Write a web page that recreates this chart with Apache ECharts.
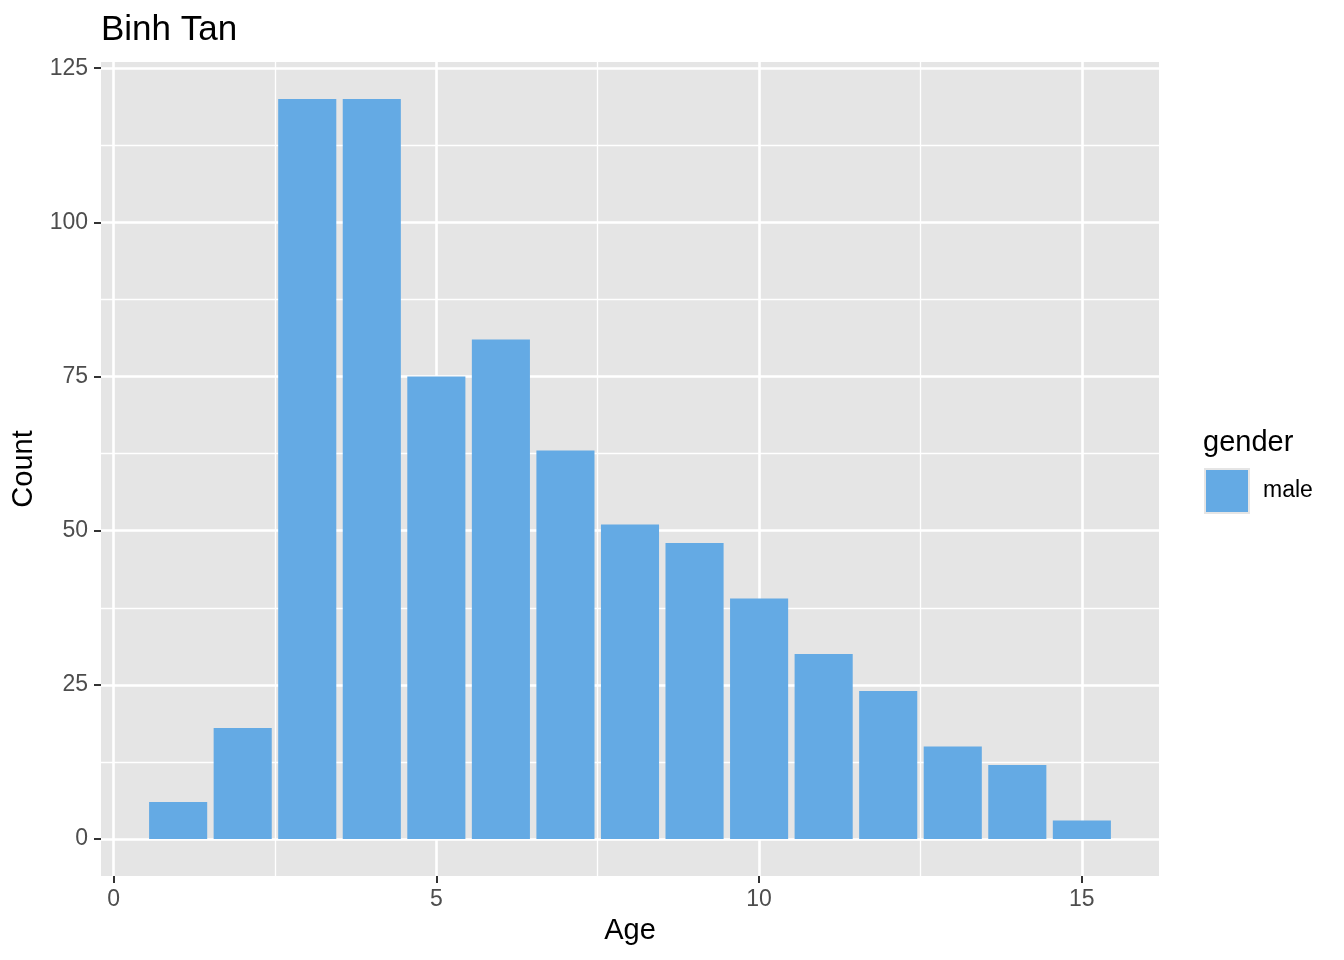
<!DOCTYPE html>
<html>
<head>
<meta charset="utf-8">
<script src="https://cdn.jsdelivr.net/npm/echarts@6/dist/echarts.min.js"></script>
<style>html,body{margin:0;padding:0;background:#fff}#c{width:1344px;height:960px}</style>
</head>
<body>
<div id="c"></div>
<script>
const ages = [1,2,3,4,5,6,7,8,9,10,11,12,13,14,15];
const counts = [6,18,120,120,75,81,63,51,48,39,30,24,15,12,3];
const xMajorTicks = [0,5,10,15];
const xMinorTicks = [2.5,7.5,12.5];
const yMajorTicks = [0,25,50,75,100,125];
const yMinorTicks = [12.5,37.5,62.5,87.5,112.5];
const xRange = [-0.195, 16.195];
const yRange = [-6, 126];
const BAR_W = 0.9;

const FONT = 'Liberation Sans';
const chart = echarts.init(document.getElementById('c'), null, {renderer:'canvas'});
const baseX = {
  type:'value', min:xRange[0], max:xRange[1], gridIndex:0, position:'bottom',
  axisLine:{show:false, onZero:false}
};
const baseY = {
  type:'value', min:yRange[0], max:yRange[1], gridIndex:0, position:'left',
  axisLine:{show:false, onZero:false}
};
chart.setOption({
  backgroundColor:'#ffffff',
  animation:false,
  title:[
    {text:'Binh Tan', left:96, top:8, textStyle:{fontFamily:FONT, fontSize:35, fontWeight:'normal', color:'#000'}},
    {text:'gender', left:1198, top:423, textStyle:{fontFamily:FONT, fontSize:29, fontWeight:'normal', color:'#000'}}
  ],
  legend:{
    left:1204, top:468, padding:0, orient:'vertical', itemWidth:44, itemHeight:44,
    icon:'rect',
    itemStyle:{borderColor:'#e5e5e5', borderWidth:2},
    textStyle:{fontFamily:FONT, fontSize:23, color:'#000', padding:[0,0,0,9]},
    data:['male']
  },
  grid:{left:101, top:62, width:1058, height:814, show:true, backgroundColor:'#e5e5e5', borderWidth:0},
  xAxis:[
    Object.assign({}, baseX, {
      name:'Age', nameLocation:'middle', nameGap:40,
      nameTextStyle:{fontFamily:FONT, fontSize:29, color:'#000'},
      axisTick:{show:true, length:7, lineStyle:{color:'#333', width:2}, customValues:xMajorTicks},
      axisLabel:{fontFamily:FONT, fontSize:23, color:'#4d4d4d', margin:12, customValues:xMajorTicks},
      splitLine:{show:true, lineStyle:{color:'#ffffff', width:2.6}}
    }),
    Object.assign({}, baseX, {
      axisTick:{show:false, customValues:xMinorTicks},
      axisLabel:{show:false, customValues:xMinorTicks},
      splitLine:{show:true, lineStyle:{color:'#ffffff', width:1.3}}
    })
  ],
  yAxis:[
    Object.assign({}, baseY, {
      name:'Count', nameLocation:'middle', nameGap:55, nameRotate:90,
      nameTextStyle:{fontFamily:FONT, fontSize:29, color:'#000'},
      axisTick:{show:true, length:7, lineStyle:{color:'#333', width:2}, customValues:yMajorTicks},
      axisLabel:{fontFamily:FONT, fontSize:23, color:'#4d4d4d', margin:13, customValues:yMajorTicks},
      splitLine:{show:true, lineStyle:{color:'#ffffff', width:2.6}}
    }),
    Object.assign({}, baseY, {
      axisTick:{show:false, customValues:yMinorTicks},
      axisLabel:{show:false, customValues:yMinorTicks},
      splitLine:{show:true, lineStyle:{color:'#ffffff', width:1.3}}
    })
  ],
  series:[{
    name:'male', type:'custom', xAxisIndex:0, yAxisIndex:0,
    itemStyle:{color:'#64aae4'},
    encode:{x:0, y:1},
    renderItem:function(params, api){
      const x = api.value(0), y = api.value(1);
      const p0 = api.coord([x - BAR_W/2, 0]);
      const p1 = api.coord([x + BAR_W/2, y]);
      return {
        type:'rect',
        shape:{x:p0[0], y:p1[1], width:p1[0]-p0[0], height:p0[1]-p1[1]},
        style:{fill:'#64aae4'}
      };
    },
    data: ages.map((a,i)=>[a, counts[i]])
  }]
});
</script>
</body>
</html>
